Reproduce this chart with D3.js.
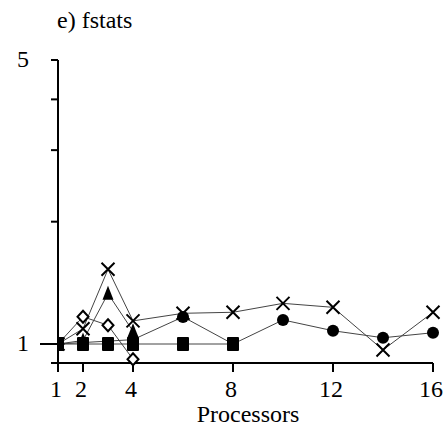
<!DOCTYPE html>
<html>
<head>
<meta charset="utf-8">
<script src="https://cdn.jsdelivr.net/npm/d3@7"></script>
<style>
  html, body { margin: 0; padding: 0; background: #fff; }
  svg { display: block; }
  text { font-family: "Liberation Serif", "Times New Roman", serif; fill: #000; }
</style>
</head>
<body>
<script>
// Speedup of fstats against processor count, one series per marker style
const processors = [1, 2, 3, 4, 6, 8, 10, 12, 14, 16];
const xTicks = [1, 2, 4, 8, 12, 16];
const yTicks = [1, 2, 3, 4, 5];
const yTickLabels = ["1", "", "", "", "5"];

const squareX = [1, 2, 3, 4, 6, 8];
const squareY = [1.0, 1.0, 1.0, 1.0, 1.0, 1.0];

const triangleX = [1, 2, 3, 4];
const triangleY = [1.0, 1.02, 1.33, 1.075];

const diamondX = [1, 2, 3, 4];
const diamondY = [1.0, 1.167, 1.112, 0.917];

const crossX = processors;
const crossY = [1.0, 1.09, 1.527, 1.14, 1.19, 1.197, 1.259, 1.231, 0.967, 1.197];

const circleX = [1, 4, 6, 8, 10, 12, 14, 16];
const circleY = [1.0, 1.025, 1.166, 1.0, 1.146, 1.078, 1.036, 1.066];

const W = 446, H = 426;
const svg = d3.select("body").append("svg").attr("width", W).attr("height", H);

const x = d3.scaleLinear().domain([1, 16]).range([58, 433]);
const y = d3.scaleLog().domain([1, 5]).range([344, 60]);
const axisY = 363;
const fontSize = "24px";

// title
svg.append("text").attr("x", 57).attr("y", 28)
  .style("font-size", fontSize).text("e) fstats");

// y axis: line, ticks and the two end labels
svg.append("line").attr("x1", x(1)).attr("x2", x(1))
  .attr("y1", y(5)).attr("y2", axisY)
  .attr("stroke", "#000").attr("stroke-width", 2);
yTicks.forEach((v, i) => {
  svg.append("line")
    .attr("x1", v === 1 ? 40 : 51).attr("x2", x(1))
    .attr("y1", y(v)).attr("y2", y(v))
    .attr("stroke", "#000").attr("stroke-width", 2);
  if (yTickLabels[i]) {
    svg.append("text").attr("x", 23).attr("y", y(v) + 7)
      .attr("text-anchor", "middle").style("font-size", fontSize)
      .text(yTickLabels[i]);
  }
});

// x axis
svg.append("line").attr("x1", 51).attr("x2", x(16))
  .attr("y1", axisY).attr("y2", axisY)
  .attr("stroke", "#000").attr("stroke-width", 2);
xTicks.forEach(v => {
  svg.append("line").attr("x1", x(v)).attr("x2", x(v))
    .attr("y1", axisY).attr("y2", axisY + 9)
    .attr("stroke", "#000").attr("stroke-width", 2);
  svg.append("text").attr("x", x(v) - 2).attr("y", 397)
    .attr("text-anchor", "middle").style("font-size", fontSize).text(v);
});
svg.append("text").attr("x", 248).attr("y", 422)
  .attr("text-anchor", "middle").style("font-size", fontSize).text("Processors");

// plot area clip: markers at the first point are cut at the y axis
svg.append("clipPath").attr("id", "plot")
  .append("rect").attr("x", x(1)).attr("y", 0).attr("width", W - x(1)).attr("height", H);
const plot = svg.append("g").attr("clip-path", "url(#plot)");

const series = [
  { xs: circleX, ys: circleY, marker: "circle" },
  { xs: crossX, ys: crossY, marker: "cross" },
  { xs: triangleX, ys: triangleY, marker: "triangle" },
  { xs: diamondX, ys: diamondY, marker: "diamond" },
  { xs: squareX, ys: squareY, marker: "square" }
];

const line = d3.line().x(d => x(d[0])).y(d => y(d[1]));
series.forEach(s => {
  const pts = s.xs.map((p, i) => [p, s.ys[i]]);
  plot.append("path").attr("d", line(pts))
    .attr("fill", "none").attr("stroke", "#444").attr("stroke-width", 1);
});

series.forEach(s => {
  const pts = s.xs.map((p, i) => [p, s.ys[i]]);
  const g = plot.append("g");
  pts.forEach(d => {
    const cx = x(d[0]), cy = y(d[1]);
    if (s.marker === "square") {
      g.append("rect").attr("x", cx - 6).attr("y", cy - 7)
        .attr("width", 12).attr("height", 14).attr("rx", 1).attr("fill", "#000");
    } else if (s.marker === "circle") {
      g.append("circle").attr("cx", cx).attr("cy", cy).attr("r", 6).attr("fill", "#000");
    } else if (s.marker === "triangle") {
      g.append("path")
        .attr("d", `M${cx},${cy - 8}L${cx + 5.5},${cy + 6}L${cx - 5.5},${cy + 6}Z`)
        .attr("fill", "#000");
    } else if (s.marker === "diamond") {
      g.append("path")
        .attr("d", `M${cx},${cy - 6}L${cx + 5.5},${cy}L${cx},${cy + 6}L${cx - 5.5},${cy}Z`)
        .attr("fill", "#fff").attr("stroke", "#000").attr("stroke-width", 2);
    } else if (s.marker === "cross") {
      g.append("path")
        .attr("d", `M${cx - 6.5},${cy - 6.5}L${cx + 6.5},${cy + 6.5}M${cx + 6.5},${cy - 6.5}L${cx - 6.5},${cy + 6.5}`)
        .attr("stroke", "#000").attr("stroke-width", 2).attr("fill", "none");
    }
  });
});
</script>
</body>
</html>
